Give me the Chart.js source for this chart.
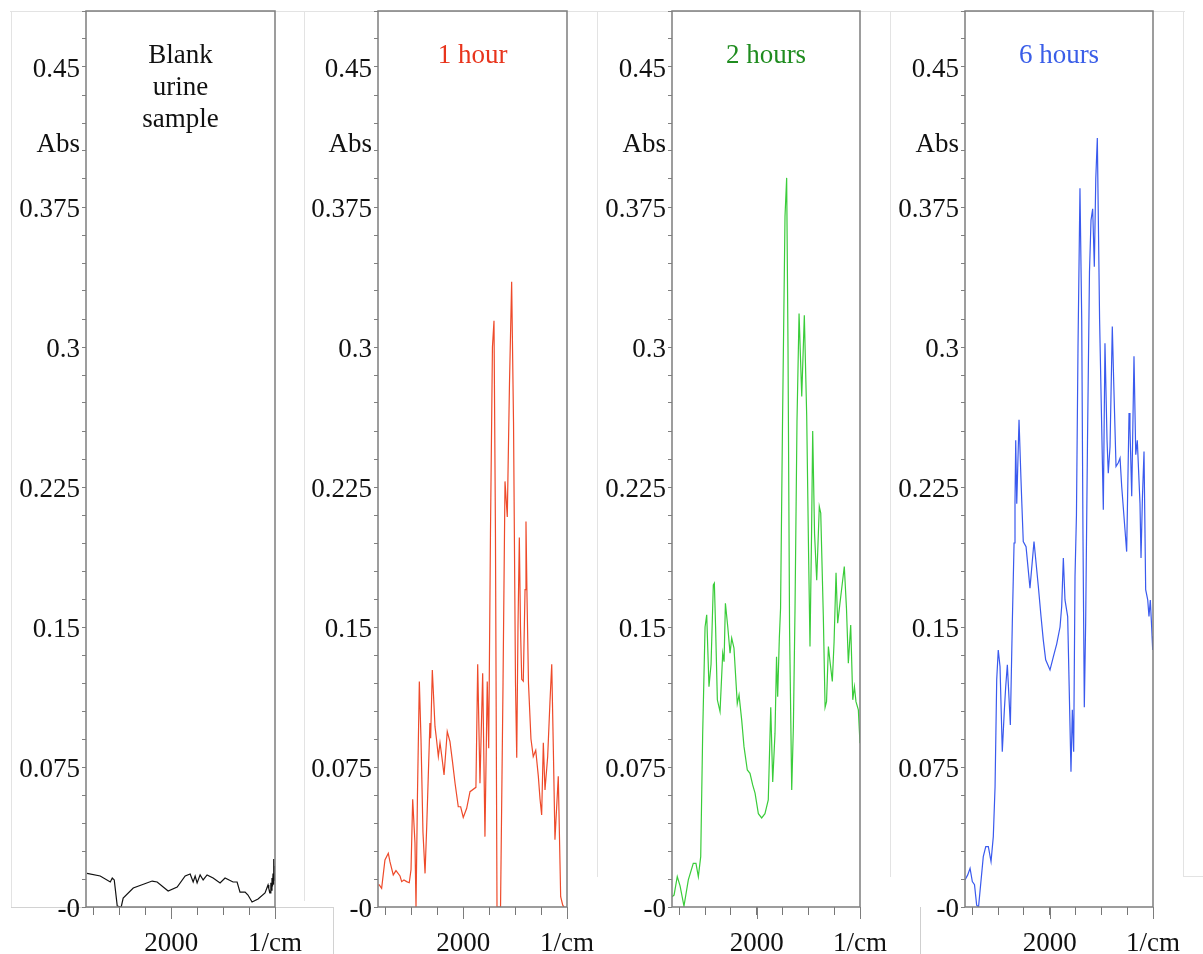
<!DOCTYPE html>
<html>
<head>
<meta charset="utf-8">
<script src="https://cdn.jsdelivr.net/npm/chart.js@4"></script>
<style>
  body { margin: 0; background: #fff; width: 1203px; height: 954px; position: relative; overflow: hidden; }
  canvas { position: absolute; top: 0; }
  .frame { position: absolute; border: 0 solid #e3e3e3; }
</style>
</head>
<body>
<!-- faint frames of the original screenshot -->
<div class="frame" style="left:10px;top:11px;width:1175px;border-top-width:1px;"></div>
<div class="frame" style="left:11px;top:11px;height:896px;border-left-width:1px;"></div>
<div class="frame" style="left:11px;top:907px;width:322px;border-top-width:1px;border-color:#d2d2d2;"></div>
<div class="frame" style="left:333px;top:907px;height:47px;border-left-width:1px;border-color:#d2d2d2;"></div>
<div class="frame" style="left:304px;top:11px;height:890px;border-left-width:1px;"></div>
<div class="frame" style="left:597px;top:11px;height:866px;border-left-width:1px;"></div>
<div class="frame" style="left:890px;top:11px;height:866px;border-left-width:1px;"></div>
<div class="frame" style="left:920px;top:907px;height:47px;border-left-width:1px;border-color:#cfcfcf;"></div>
<div class="frame" style="left:1183px;top:11px;height:865px;width:20px;border-left-width:1px;border-bottom-width:1px;"></div>

<script>
// Blank urine sample (Abs vs 1/cm)
const blankWavenumber = [2810, 2683, 2586, 2567, 2548, 2519, 2481, 2462, 2365, 2183, 2135, 2029, 1942, 1865, 1817, 1788, 1769, 1750, 1721, 1692, 1654, 1596, 1529, 1481, 1404, 1365, 1337, 1288, 1260, 1221, 1163, 1096, 1067, 1060, 1048, 1040, 1035, 1029, 1024, 1019, 1014, 1010, 1006, 1003, 1000];
const blankAbsorbance = [0.018, 0.0166, 0.0134, 0.0155, 0.0145, 0.0005, 0.0, 0.0048, 0.0102, 0.0139, 0.0134, 0.0086, 0.0107, 0.0166, 0.0177, 0.0134, 0.0166, 0.0129, 0.0172, 0.0145, 0.0172, 0.0155, 0.0129, 0.0155, 0.0134, 0.0134, 0.008, 0.008, 0.0064, 0.0027, 0.0043, 0.0075, 0.0118, 0.010, 0.0075, 0.013, 0.009, 0.0155, 0.011, 0.018, 0.012, 0.0257, 0.015, 0.022, 0.014];

// 1 hour
const hour1Wavenumber = [2815, 2808, 2785, 2753, 2721, 2705, 2673, 2647, 2608, 2592, 2570, 2544, 2519, 2502, 2486, 2464, 2454, 2440, 2422, 2406, 2387, 2367, 2351, 2320, 2313, 2297, 2271, 2257, 2239, 2223, 2204, 2184, 2153, 2127, 2103, 2078, 2047, 2024, 1999, 1966, 1934, 1877, 1860, 1838, 1812, 1790, 1768, 1754, 1737, 1718, 1703, 1689, 1674, 1640, 1616, 1597, 1575, 1554, 1533, 1515, 1496, 1484, 1472, 1459, 1448, 1436, 1421, 1404, 1395, 1385, 1371, 1347, 1325, 1301, 1276, 1260, 1244, 1228, 1212, 1186, 1164, 1147, 1130, 1116, 1084, 1061, 1041, 1029];
const hour1Absorbance = [0.0118, 0.0118, 0.010, 0.0252, 0.0288, 0.0243, 0.0172, 0.0195, 0.0166, 0.0136, 0.0145, 0.0136, 0.013, 0.02, 0.0577, 0.0343, 0.0, 0.06, 0.1208, 0.09, 0.04, 0.018, 0.043, 0.0985, 0.0904, 0.127, 0.0966, 0.09, 0.0806, 0.088, 0.08, 0.0707, 0.094, 0.0886, 0.078, 0.0663, 0.0537, 0.0537, 0.048, 0.0529, 0.0618, 0.0641, 0.130, 0.0663, 0.1252, 0.0377, 0.1208, 0.085, 0.2, 0.3, 0.314, 0.2, 0.0, 0.0, 0.12, 0.228, 0.209, 0.28, 0.335, 0.26, 0.12, 0.08, 0.15, 0.198, 0.15, 0.122, 0.121, 0.17, 0.2065, 0.166, 0.12, 0.09, 0.0806, 0.084, 0.07, 0.058, 0.0493, 0.088, 0.0627, 0.0806, 0.11, 0.130, 0.08, 0.036, 0.07, 0.0055, 0.001, 0.0];

// 2 hours
const hour2Wavenumber = [2820, 2800, 2769, 2742, 2704, 2662, 2614, 2588, 2565, 2542, 2523, 2500, 2484, 2462, 2442, 2420, 2410, 2398, 2381, 2355, 2329, 2316, 2303, 2280, 2258, 2242, 2220, 2188, 2171, 2145, 2123, 2091, 2065, 2039, 2016, 1984, 1952, 1920, 1888, 1864, 1845, 1823, 1808, 1797, 1781, 1769, 1750, 1726, 1710, 1697, 1682, 1661, 1645, 1629, 1610, 1590, 1564, 1539, 1516, 1498, 1484, 1469, 1458, 1440, 1419, 1394, 1380, 1355, 1338, 1324, 1306, 1290, 1268, 1251, 1232, 1216, 1194, 1152, 1131, 1113, 1090, 1070, 1054, 1039, 1016, 1000];
const hour2Absorbance = [0.0055, 0.0064, 0.0163, 0.0113, 0.0005, 0.0145, 0.0234, 0.0234, 0.0163, 0.027, 0.093, 0.150, 0.1565, 0.118, 0.13, 0.1726, 0.1735, 0.15, 0.111, 0.1047, 0.136, 0.1314, 0.1627, 0.150, 0.136, 0.144, 0.1387, 0.109, 0.1136, 0.100, 0.0859, 0.0734, 0.0716, 0.0654, 0.061, 0.050, 0.0477, 0.050, 0.0574, 0.107, 0.067, 0.093, 0.134, 0.1127, 0.144, 0.16, 0.26, 0.37, 0.3906, 0.3, 0.15, 0.0627, 0.0966, 0.16, 0.26, 0.318, 0.2735, 0.317, 0.263, 0.19, 0.1395, 0.2, 0.255, 0.2, 0.175, 0.2145, 0.211, 0.1556, 0.107, 0.11, 0.1395, 0.1314, 0.1208, 0.142, 0.179, 0.152, 0.1627, 0.1824, 0.16, 0.1306, 0.151, 0.111, 0.118, 0.110, 0.1056, 0.0877];

// 6 hours
const hour6Wavenumber = [2820, 2794, 2771, 2749, 2728, 2707, 2689, 2643, 2619, 2594, 2568, 2546, 2529, 2513, 2498, 2481, 2459, 2439, 2426, 2410, 2381, 2362, 2345, 2336, 2329, 2319, 2297, 2278, 2271, 2256, 2229, 2191, 2152, 2110, 2084, 2062, 2039, 1997, 1965, 1932, 1900, 1884, 1868, 1852, 1826, 1794, 1781, 1768, 1755, 1741, 1726, 1707, 1690, 1678, 1665, 1652, 1634, 1615, 1600, 1584, 1568, 1554, 1539, 1517, 1481, 1465, 1445, 1433, 1416, 1394, 1381, 1358, 1336, 1319, 1303, 1271, 1255, 1232, 1223, 1206, 1184, 1167, 1152, 1126, 1116, 1102, 1087, 1071, 1051, 1039, 1026, 1013, 1003, 1000];
const hour6Absorbance = [0.0145, 0.0172, 0.0207, 0.0136, 0.012, 0.001, 0.0, 0.027, 0.0323, 0.0323, 0.0243, 0.0377, 0.0644, 0.1217, 0.1377, 0.1288, 0.0832, 0.1056, 0.118, 0.1297, 0.0975, 0.152, 0.195, 0.2163, 0.250, 0.216, 0.261, 0.229, 0.218, 0.1958, 0.193, 0.1708, 0.1958, 0.1717, 0.1556, 0.143, 0.1324, 0.127, 0.134, 0.141, 0.150, 0.161, 0.187, 0.1645, 0.1556, 0.0725, 0.1056, 0.0832, 0.177, 0.21, 0.3, 0.385, 0.3146, 0.2, 0.107, 0.152, 0.25, 0.34, 0.368, 0.374, 0.343, 0.39, 0.412, 0.3146, 0.2128, 0.302, 0.25, 0.2324, 0.2467, 0.311, 0.2825, 0.236, 0.238, 0.2405, 0.2253, 0.202, 0.1904, 0.2646, 0.2566, 0.22, 0.295, 0.2423, 0.250, 0.2163, 0.187, 0.22, 0.244, 0.170, 0.1645, 0.1556, 0.1645, 0.150, 0.1377, 0.145];

// axes
const yTickValues = [0, 0.075, 0.15, 0.225, 0.3, 0.375, 0.45];
const yTickLabels = ['-0', '0.075', '0.15', '0.225', '0.3', '0.375', '0.45'];
const xTickValues = [2000, 1000];
const xTickLabels = ['2000', '1/cm'];

const AXIS_W = 86;
const RIGHT_PAD = 36;
const FONT = "'Liberation Serif', 'DejaVu Serif', serif";

Chart.defaults.font.family = FONT;
Chart.defaults.font.size = 27;
Chart.defaults.color = '#111';

// keep the plot box where it is: no extra room for half tick labels
function noLabelPadding(s) {
    s.paddingTop = 0;
    s.paddingBottom = 0;
    s.paddingLeft = 0;
    s.paddingRight = 0;
}

const panelDecor = {
    id: 'panelDecor',
    afterDraw(chart, args, opts) {
        const { ctx, chartArea: a, scales } = chart;
        ctx.save();
        ctx.strokeStyle = '#7d7d7d';
        ctx.lineWidth = 1.5;
        ctx.strokeRect(a.left, a.top, a.right - a.left, a.bottom - a.top);
        // longer ticks for the labelled wavenumbers
        ctx.lineWidth = 1;
        ctx.beginPath();
        xTickValues.forEach(v => {
            const px = Math.round(scales.x.getPixelForValue(v)) + 0.5;
            ctx.moveTo(px, a.bottom);
            ctx.lineTo(px, a.bottom + 12);
        });
        ctx.stroke();
        ctx.font = '27px ' + FONT;
        ctx.fillStyle = '#111';
        ctx.textAlign = 'right';
        ctx.textBaseline = 'middle';
        ctx.fillText('Abs', a.left - 6, scales.y.getPixelForValue(0.41) + 3);
        ctx.fillStyle = opts.color;
        ctx.textAlign = 'center';
        opts.lines.forEach((t, i) => ctx.fillText(t, (a.left + a.right) / 2, a.top + 45 + i * 32));
        ctx.restore();
    }
};

function makePanel(p) {
    const canvas = document.createElement('canvas');
    canvas.width = AXIS_W + p.plotW + RIGHT_PAD;
    canvas.height = 954;
    canvas.style.left = (p.left - AXIS_W) + 'px';
    document.body.appendChild(canvas);

    new Chart(canvas, {
        type: 'scatter',
        data: {
            datasets: [{
                data: p.wn.map((w, i) => ({ x: w, y: p.abs[i] })),
                showLine: true,
                borderColor: p.color,
                borderWidth: 1.2,
                pointRadius: 0,
                tension: 0
            }]
        },
        options: {
            responsive: false,
            animation: false,
            devicePixelRatio: 1,
            layout: { autoPadding: false, padding: { top: 11, right: RIGHT_PAD, left: 0, bottom: 0 } },
            plugins: {
                legend: { display: false },
                tooltip: { enabled: false },
                panelDecor: { color: p.titleColor, lines: p.title }
            },
            scales: {
                x: {
                    type: 'linear',
                    reverse: true,
                    min: 1000,
                    max: 2820,
                    afterFit: s => { s.height = 47; noLabelPadding(s); },
                    border: { display: false },
                    grid: { drawOnChartArea: false, drawTicks: true, tickLength: 8, color: '#777' },
                    ticks: {
                        stepSize: 250,
                        includeBounds: false,
                        autoSkip: false,
                        maxRotation: 0,
                        padding: 13,
                        callback: v => {
                            const k = xTickValues.indexOf(v);
                            return k >= 0 ? xTickLabels[k] : '';
                        }
                    }
                },
                y: {
                    min: 0,
                    max: 0.48,
                    afterFit: s => { s.width = AXIS_W; noLabelPadding(s); },
                    border: { display: false },
                    grid: { drawOnChartArea: false, drawTicks: true, tickLength: 4, color: '#808080' },
                    ticks: {
                        stepSize: 0.015,
                        includeBounds: false,
                        autoSkip: false,
                        padding: 2,
                        labelOffset: 3,
                        callback: v => {
                            const k = yTickValues.findIndex(t => Math.abs(t - v) < 1e-6);
                            return k >= 0 ? yTickLabels[k] : '';
                        }
                    }
                }
            }
        },
        plugins: [panelDecor]
    });
}

makePanel({ left: 86, plotW: 189, wn: blankWavenumber, abs: blankAbsorbance, color: '#111111', titleColor: '#111111', title: ['Blank', 'urine', 'sample'] });
makePanel({ left: 378, plotW: 189, wn: hour1Wavenumber, abs: hour1Absorbance, color: '#ee4a2a', titleColor: '#e8341c', title: ['1 hour'] });
makePanel({ left: 672, plotW: 188, wn: hour2Wavenumber, abs: hour2Absorbance, color: '#3acc3a', titleColor: '#1f8c1f', title: ['2 hours'] });
makePanel({ left: 965, plotW: 188, wn: hour6Wavenumber, abs: hour6Absorbance, color: '#3a5aee', titleColor: '#3a5ee8', title: ['6 hours'] });
</script>
</body>
</html>
